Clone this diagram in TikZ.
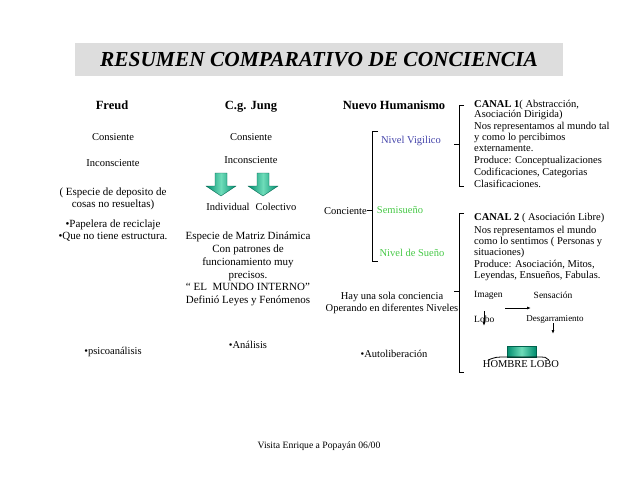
\documentclass[tikz,border=0pt]{standalone}
\usepackage{fontspec}
\setmainfont{Liberation Serif}
\usetikzlibrary{arrows.meta}

\definecolor{titlegray}{RGB}{221,221,221}
\definecolor{vigblue}{RGB}{68,68,170}
\definecolor{suegreen}{RGB}{70,200,70}
\definecolor{arrdark}{RGB}{0,140,110}
\definecolor{arrlight}{RGB}{110,220,185}

\begin{document}
\begin{tikzpicture}[x=1pt, y=-1pt,
    txt/.style={inner sep=0pt, font=\fontsize{10.5}{12}\selectfont},
    blk/.style={txt, align=center},
    col/.style={inner sep=0pt, align=left, anchor=north west, font=\fontsize{10.5}{10.7}\selectfont},
    small/.style={inner sep=0pt, font=\fontsize{9.5}{10.5}\selectfont},
    head/.style={inner sep=0pt, anchor=base, font=\fontsize{12.5}{14}\selectfont\bfseries},
    bar/.style={fill=titlegray, minimum width=488pt, minimum height=33pt, font=\fontsize{21.4}{24}\selectfont\bfseries\itshape},
    brk/.style={line width=0.8pt},
    uni/.style={-{Latex[length=4pt,width=3pt]}, line width=0.8pt},
    fat/.style={left color=arrdark, right color=arrdark, middle color=arrlight, draw=arrdark!70!black, line width=0.3pt}
]
    \useasboundingbox (0,0) rectangle (638,479);

    % Title
    \node[bar] (title) at (319,59.5) {RESUMEN COMPARATIVO DE CONCIENCIA};

    % Column heads
    \node[head] (freud) at (112,109.5) {Freud};
    \node[head] (jung) at (251,109.5) {C.g. Jung};
    \node[head] (nhum) at (394,109.5) {Nuevo Humanismo};

    % Freud
    \node[txt] (fcons) at (113,137) {Consiente};
    \node[txt] (finc) at (113,163) {Inconsciente};
    \node[blk, font=\fontsize{11}{12}\selectfont] (fesp) at (113,199) {( Especie de deposito de\\cosas no resueltas)};
    \node[blk, font=\fontsize{11}{12}\selectfont] (fpap) at (113,231) {•Papelera de reciclaje\\•Que no tiene estructura.};
    \node[txt] (fpsi) at (113,352) {•psicoanálisis};

    % Jung
    \node[txt] (jcons) at (251,137) {Consiente};
    \node[txt] (jinc) at (251,160) {Inconsciente};
    \shadedraw[fat] (215,173) -- (227,173) -- (227,186) -- (236,186) -- (221,196) -- (206,186) -- (215,186) -- cycle;
    \shadedraw[fat] (257,173) -- (269,173) -- (269,186) -- (278,186) -- (263,196) -- (248,186) -- (257,186) -- cycle;
    \node[txt] (jind) at (228,207) {Individual};
    \node[txt] (jcol) at (276,207) {Colectivo};
    \node[blk, font=\fontsize{11}{12.8}\selectfont] (jmat) at (248,269)
        {Especie de Matriz Dinámica\\Con patrones de\\funcionamiento muy\\precisos.\\“ EL\ \ MUNDO INTERNO”\\Definió Leyes y Fenómenos};
    \node[txt] (jana) at (248,345) {•Análisis};

    % Nuevo Humanismo
    \node[txt, text=vigblue, anchor=base] (vig) at (411,143.5) {Nivel Vigilico};
    \node[txt, text=suegreen] (semi) at (400,210) {Semisueño};
    \node[txt, text=suegreen] (suen) at (412,253) {Nivel de Sueño};
    \node[txt, anchor=east] (conc) at (367,211) {Conciente};
    \draw[brk] (378,131) -- (372,131) -- (372,261) -- (378,261);
    \draw[brk] (372,210) -- (367,210);
    \node[blk] (sola) at (392,302.5) {Hay una sola conciencia\\Operando en diferentes Niveles};
    \node[txt] (auto) at (394,354) {•Autoliberación};

    % Brackets to the canals
    \draw[brk] (464,105) -- (459,105) -- (459,186) -- (464,186);
    \draw[brk] (459,144) -- (454,144);
    \draw[brk] (464,213) -- (459,213) -- (459,372) -- (464,372);
    \draw[brk] (459,291) -- (454,291);

    % Canal 1
    \node[col] (canal1) at (474,99.5)
        {\textbf{CANAL 1}( Abstracción,\\Asociación Dirigida)\\[1.5pt]
         Nos representamos al mundo tal\\y como lo percibimos\\externamente.\\[1.5pt]
         Produce: Conceptualizaciones\\[1.5pt]
         Codificaciones, Categorias\\[1.5pt]
         Clasificaciones.};

    % Canal 2
    \node[col] (canal2) at (474,213)
        {\textbf{CANAL 2} ( Asociación Libre)\\[2.5pt]
         Nos representamos el mundo\\como lo sentimos ( Personas y\\situaciones)\\[1.5pt]
         Produce: Asociación, Mitos,\\Leyendas, Ensueños, Fabulas.};

    % Hombre lobo
    \node[small, anchor=west] (imag) at (474,295) {Imagen};
    \node[small] (sens) at (553,295) {Sensación};
    \node[small, anchor=west] (lobo) at (474,319) {Lobo};
    \node[small, font=\fontsize{9}{10.5}\selectfont] (desg) at (555,319) {Desgarramiento};
    \coordinate (h1) at (505,308);
    \coordinate (h2) at (531,308);
    \coordinate (l1) at (484,311);
    \coordinate (l2) at (484,326);
    \coordinate (d1) at (553,323);
    \coordinate (d2) at (553,334);
    \draw[uni] (h1) -- (h2);
    \draw[uni] (l1) -- (l2);
    \draw[uni] (d1) -- (d2);
    \shadedraw[fat] (507,346) rectangle (536,357);
    \draw[brk] (488,360) .. controls (496,357) .. (507,357) -- (536,357) .. controls (546,357) .. (549,360);
    \node[small, font=\fontsize{10.5}{10.5}\selectfont] (hlobo) at (521,364.5) {HOMBRE LOBO};

    % Footer
    \node[txt, font=\fontsize{9.7}{12}\selectfont] (foot) at (319,446) {Visita Enrique a Popayán 06/00};
\end{tikzpicture}
\end{document}
